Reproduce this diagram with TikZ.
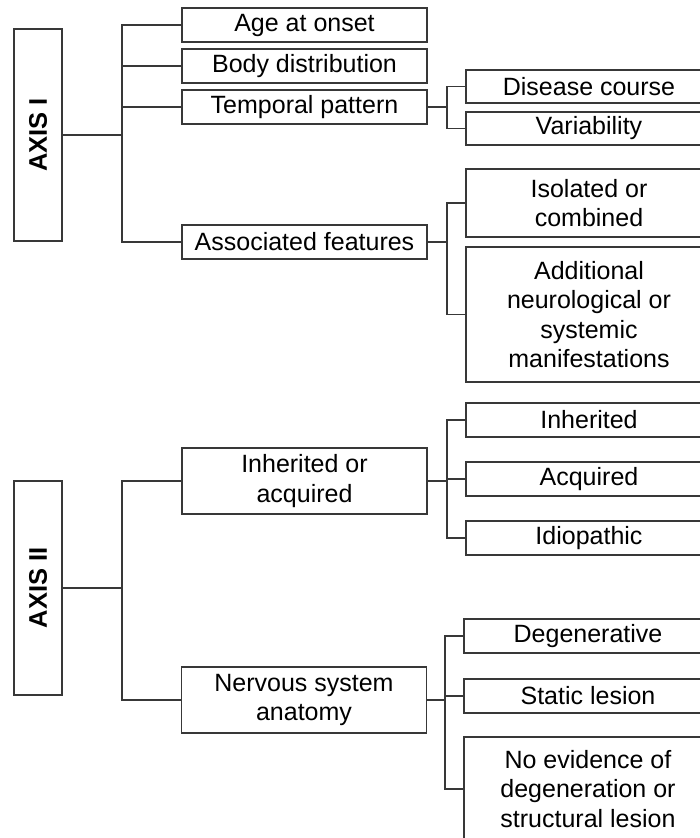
\documentclass[tikz,border=0pt]{standalone}
\usepackage{fontspec}
\setmainfont{Liberation Sans}
\begin{document}
\begin{tikzpicture}[x=1pt,y=-1pt,
  box/.style={draw=black!78, fill=white, line width=1.3pt, inner sep=0pt, align=center,
    font=\fontsize{25}{29.5}\selectfont, text=black},
  axisbox/.style={box, font=\bfseries\fontsize{25.5}{30}\selectfont, rotate=90,
    minimum height=48pt},
  wire/.style={draw=black!78, line width=1.3pt}
]
\useasboundingbox (0,0) rectangle (700,838);
\clip (0,0) rectangle (700,838);

% AXIS I
\node[axisbox, minimum width=212pt] (ax1) at (38,135) {AXIS I};
\node[box, minimum width=245pt, minimum height=34pt] (age) at (304.5,25) {Age at onset};
\node[box, minimum width=245pt, minimum height=34pt] (body) at (304.5,66) {Body distribution};
\node[box, minimum width=245pt, minimum height=34pt] (temp) at (304.5,107) {Temporal pattern};
\node[box, minimum width=245pt, minimum height=34pt] (assoc) at (304.5,242) {Associated features};
\node[box, minimum width=246pt, minimum height=33pt] (dis) at (589,86.5) {Disease course};
\node[box, minimum width=246pt, minimum height=33pt] (var) at (589,128.5) {Variability};
\node[box, minimum width=246pt, minimum height=68pt] (iso) at (589,203) {Isolated or\\combined};
\node[box, minimum width=246pt, minimum height=135pt] (add) at (589,314.5) {Additional\\neurological or\\systemic\\manifestations};

\coordinate (b1) at (122,135);
\coordinate (b2) at (447,107);
\coordinate (b3) at (447,242);
\draw[wire] (ax1.south) -- (b1);
\draw[wire] (age.west) -| (b1);
\draw[wire] (body.west) -| (b1);
\draw[wire] (temp.west) -| (b1);
\draw[wire] (assoc.west) -| (b1);
\draw[wire] (temp.east) -- (b2);
\draw[wire] (dis.west) -| (b2);
\draw[wire] (var.west) -| (b2);
\draw[wire] (assoc.east) -- (b3);
\draw[wire] (iso.west) -| (b3);
\draw[wire] (add.west) -| (b3);

% AXIS II
\node[axisbox, minimum width=214pt] (ax2) at (38,588) {AXIS II};
\node[box, minimum width=245pt, minimum height=66pt] (inh) at (304.5,481) {Inherited or\\acquired};
\node[box, minimum width=245pt, minimum height=66pt] (ner) at (304,700) {Nervous system\\anatomy};
\node[box, minimum width=246pt, minimum height=34pt] (inhd) at (589,420) {Inherited};
\node[box, minimum width=246pt, minimum height=34pt] (acq) at (589,479) {Acquired};
\node[box, minimum width=246pt, minimum height=34pt] (idio) at (589,538) {Idiopathic};
\node[box, minimum width=248pt, minimum height=34pt] (deg) at (588,636) {Degenerative};
\node[box, minimum width=248pt, minimum height=34pt] (stat) at (588,696) {Static lesion};
\node[box, minimum width=248pt, minimum height=104pt] (noev) at (588,789) {No evidence of\\degeneration or\\structural lesion};

\coordinate (b4) at (122,588);
\coordinate (b5) at (447,481);
\coordinate (b6) at (445,700);
\draw[wire] (ax2.south) -- (b4);
\draw[wire] (inh.west) -| (b4);
\draw[wire] (ner.west) -| (b4);
\draw[wire] (inh.east) -- (b5);
\draw[wire] (inhd.west) -| (b5);
\draw[wire] (acq.west) -| (b5);
\draw[wire] (idio.west) -| (b5);
\draw[wire] (ner.east) -- (b6);
\draw[wire] (deg.west) -| (b6);
\draw[wire] (stat.west) -| (b6);
\draw[wire] (noev.west) -| (b6);
\end{tikzpicture}
\end{document}
